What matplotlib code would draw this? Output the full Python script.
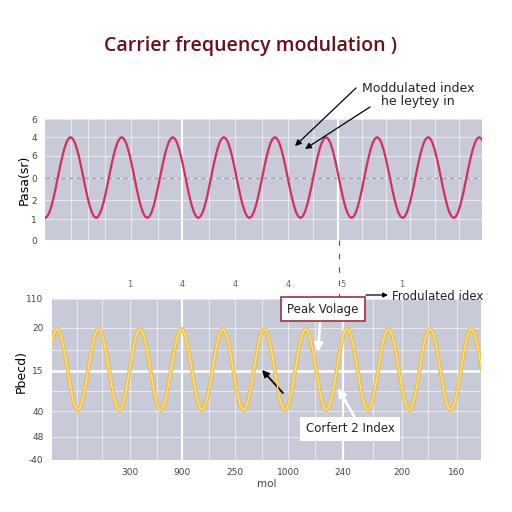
"""Carrier frequency modulation chart, two stacked panels."""

import matplotlib

matplotlib.use("Agg")

import matplotlib.pyplot as plt
import numpy as np
from matplotlib.lines import Line2D

# samples per carrier period in the wave lists below
STEPS = 24

top_wave = [
    1.1, 1.17, 1.37, 1.69, 2.1, 2.58, 3.1, 3.62, 4.1, 4.51, 4.83, 5.03,
    5.1, 5.03, 4.83, 4.51, 4.1, 3.62, 3.1, 2.58, 2.1, 1.69, 1.37, 1.17,
    1.1, 1.17, 1.37, 1.69, 2.1, 2.58, 3.1, 3.62, 4.1, 4.51, 4.83, 5.03,
    5.1, 5.03, 4.83, 4.51, 4.1, 3.62, 3.1, 2.58, 2.1, 1.69, 1.37, 1.17,
    1.1, 1.17, 1.37, 1.69, 2.1, 2.58, 3.1, 3.62, 4.1, 4.51, 4.83, 5.03,
    5.1, 5.03, 4.83, 4.51, 4.1, 3.62, 3.1, 2.58, 2.1, 1.69, 1.37, 1.17,
    1.1, 1.17, 1.37, 1.69, 2.1, 2.58, 3.1, 3.62, 4.1, 4.51, 4.83, 5.03,
    5.1, 5.03, 4.83, 4.51, 4.1, 3.62, 3.1, 2.58, 2.1, 1.69, 1.37, 1.17,
    1.1, 1.17, 1.37, 1.69, 2.1, 2.58, 3.1, 3.62, 4.1, 4.51, 4.83, 5.03,
    5.1, 5.03, 4.83, 4.51, 4.1, 3.62, 3.1, 2.58, 2.1, 1.69, 1.37, 1.17,
    1.1, 1.17, 1.37, 1.69, 2.1, 2.58, 3.1, 3.62, 4.1, 4.51, 4.83, 5.03,
    5.1, 5.03, 4.83, 4.51, 4.1, 3.62, 3.1, 2.58, 2.1, 1.69, 1.37, 1.17,
    1.1, 1.17, 1.37, 1.69, 2.1, 2.58, 3.1, 3.62, 4.1, 4.51, 4.83, 5.03,
    5.1, 5.03, 4.83, 4.51, 4.1, 3.62, 3.1, 2.58, 2.1, 1.69, 1.37, 1.17,
    1.1, 1.17, 1.37, 1.69, 2.1, 2.58, 3.1, 3.62, 4.1, 4.51, 4.83, 5.03,
    5.1, 5.03, 4.83, 4.51, 4.1, 3.62, 3.1, 2.58, 2.1, 1.69, 1.37, 1.17,
    1.1, 1.17, 1.37, 1.69, 2.1, 2.58, 3.1, 3.62, 4.1, 4.51, 4.83, 5.03,
    5.1, 5.03, 4.83,
]
top_ytick_pos = [0, 1.04, 1.98, 3.07, 4.17, 5.11, 6]
top_ytick_labels = ["0", "1", "2", "0", "6", "4", "6"]
top_grid_x = [0.51, 0.84, 1.17, 1.68, 2.21, 3.21, 3.72, 4.25, 4.76,
              5.24, 6.20, 6.67, 7.14, 7.63, 8.10]
top_marker_x = [2.68, 5.73]

bottom_wave = [
    7.40, 7.80, 8.05, 8.14, 8.05, 7.80, 7.40, 6.88, 6.27, 5.62, 4.97, 4.36,
    3.84, 3.44, 3.19,
    3.10, 3.19, 3.44, 3.84, 4.36, 4.97, 5.62, 6.27, 6.88, 7.40, 7.80, 8.05,
    8.14, 8.05, 7.80, 7.40, 6.88, 6.27, 5.62, 4.97, 4.36, 3.84, 3.44, 3.19,
    3.10, 3.19, 3.44, 3.84, 4.36, 4.97, 5.62, 6.27, 6.88, 7.40, 7.80, 8.05,
    8.14, 8.05, 7.80, 7.40, 6.88, 6.27, 5.62, 4.97, 4.36, 3.84, 3.44, 3.19,
    3.10, 3.19, 3.44, 3.84, 4.36, 4.97, 5.62, 6.27, 6.88, 7.40, 7.80, 8.05,
    8.14, 8.05, 7.80, 7.40, 6.88, 6.27, 5.62, 4.97, 4.36, 3.84, 3.44, 3.19,
    3.10, 3.19, 3.44, 3.84, 4.36, 4.97, 5.62, 6.27, 6.88, 7.40, 7.80, 8.05,
    8.14, 8.05, 7.80, 7.40, 6.88, 6.27, 5.62, 4.97, 4.36, 3.84, 3.44, 3.19,
    3.10, 3.19, 3.44, 3.84, 4.36, 4.97, 5.62, 6.27, 6.88, 7.40, 7.80, 8.05,
    8.14, 8.05, 7.80, 7.40, 6.88, 6.27, 5.62, 4.97, 4.36, 3.84, 3.44, 3.19,
    3.10, 3.19, 3.44, 3.84, 4.36, 4.97, 5.62, 6.27, 6.88, 7.40, 7.80, 8.05,
    8.14, 8.05, 7.80, 7.40, 6.88, 6.27, 5.62, 4.97, 4.36, 3.84, 3.44, 3.19,
    3.10, 3.19, 3.44, 3.84, 4.36, 4.97, 5.62, 6.27, 6.88, 7.40, 7.80, 8.05,
    8.14, 8.05, 7.80, 7.40, 6.88, 6.27, 5.62, 4.97, 4.36, 3.84, 3.44, 3.19,
    3.10, 3.19, 3.44, 3.84, 4.36, 4.97, 5.62, 6.27, 6.88, 7.40, 7.80, 8.05,
    8.14, 8.05, 7.80, 7.40, 6.88, 6.27, 5.62, 4.97, 4.36, 3.84, 3.44, 3.19,
    3.10, 3.19, 3.44, 3.84, 4.36, 4.97, 5.62, 6.27, 6.88, 7.40, 7.80, 8.05,
    8.14, 8.05, 7.80, 7.40, 6.88, 6.27, 5.62, 4.97, 4.36, 3.84, 3.44, 3.19,
    3.10, 3.19, 3.44, 3.84, 4.36, 4.97, 5.62, 6.27, 6.88, 7.40, 7.80, 8.05,
    8.14, 8.05, 7.80, 7.40, 6.88, 6.27, 5.62,
]
bottom_xtick_pos = [1.88, 3.14, 4.42, 5.70, 7.03, 8.45, 9.78]
bottom_xtick_labels = ["300", "900", "250", "1000", "240", "200", "160"]
bottom_top_labels = ["1", "4", "4", "4", "5", "1"]
bottom_minor_x = [0.60, 1.21, 2.54, 3.79, 5.07, 6.35, 7.75, 9.08]
bottom_ytick_pos = [0, 1.43, 3.04, 5.53, 8.2, 10]
bottom_ytick_labels = ["-40", "48", "40", "15", "20", "110"]
bottom_minor_y = [4.29, 6.83]
bottom_marker_x = [3.14, 7.03]
bottom_marker_y = 5.53

BG = "#c8cad8"
TICK_COLOR = "#444444"


def fp(x: float, y: float) -> tuple[float, float]:
    """Pixel position (from top-left) -> figure fraction."""
    return x / 512, 1 - y / 512


def style_axes(ax: plt.Axes) -> None:
    ax.set_facecolor(BG)
    for side in ax.spines.values():
        side.set_visible(False)
    ax.tick_params(which="both", length=0, labelsize=6.5, colors=TICK_COLOR, pad=6)
    ax.grid(which="both", color="white", alpha=0.55, linewidth=0.8)
    ax.set_axisbelow(True)


def arrow(ax: plt.Axes, start, end, color="black", lw=0.9, scale=9) -> None:
    ax.annotate(
        "", xy=fp(*end), xycoords="figure fraction",
        xytext=fp(*start), textcoords="figure fraction",
        arrowprops=dict(arrowstyle="-|>", color=color, lw=lw, mutation_scale=scale,
                        shrinkA=0, shrinkB=0),
    )


fig = plt.figure(figsize=(5.12, 5.12), dpi=100)
fig.patch.set_facecolor("white")

# --- top panel ---
ax_top = fig.add_axes([0.088, 0.531, 0.853, 0.2365])
style_axes(ax_top)
top_x = np.arange(len(top_wave)) / STEPS
ax_top.plot(top_x, top_wave, color="#d42f5a", linewidth=1.6, zorder=3,
            solid_joinstyle="round")
ax_top.axhline(3.07, color="#9a9cad", linestyle=(0, (4, 3)), linewidth=0.8, zorder=2)
for xv in top_marker_x:
    ax_top.axvline(xv, color="white", linewidth=1.6, zorder=2)
ax_top.set_xlim(0, 8.55)
ax_top.set_ylim(0, 6)
ax_top.set_xticks(top_grid_x)
ax_top.set_xticklabels([])
ax_top.set_yticks(top_ytick_pos, top_ytick_labels)
ax_top.set_ylabel("Pasa(sr)", fontsize=9)
ax_top.yaxis.set_label_coords(-0.032, 0.5)

# --- bottom panel ---
ax_bot = fig.add_axes([0.1016, 0.1016, 0.838, 0.3145])
style_axes(ax_bot)
bot_x = np.arange(len(bottom_wave)) / STEPS
ax_bot.plot(bot_x, bottom_wave, color="#efc03c", linewidth=3.0, alpha=0.9, zorder=3,
            solid_joinstyle="round")
ax_bot.plot(bot_x, bottom_wave, color="#f9e4a0", linewidth=0.8, zorder=4)
for xv in bottom_marker_x:
    ax_bot.axvline(xv, color="white", linewidth=1.6, zorder=2)
ax_bot.axhline(bottom_marker_y, color="white", linewidth=1.8, zorder=2)
ax_bot.set_xlim(0, 10.36)
ax_bot.set_ylim(0, 10)
ax_bot.set_xticks(bottom_xtick_pos, bottom_xtick_labels)
ax_bot.set_xticks(bottom_minor_x, minor=True)
ax_bot.set_yticks(bottom_ytick_pos, bottom_ytick_labels)
ax_bot.set_yticks(bottom_minor_y, minor=True)
ax_bot.set_xlabel("mol", fontsize=7.5, color=TICK_COLOR, labelpad=1)
ax_bot.set_ylabel("Pbecd)", fontsize=9)
ax_bot.yaxis.set_label_coords(-0.056, 0.55)

sec = ax_bot.secondary_xaxis("top")
sec.set_xticks(bottom_xtick_pos[:-1], bottom_top_labels)
sec.tick_params(length=0, labelsize=6, colors="#666666", pad=7)
for side in sec.spines.values():
    side.set_visible(False)

# dashed marker joining the panels
fig.add_artist(Line2D([339 / 512, 339 / 512], [1 - 240 / 512, 1 - 299 / 512],
                      color="#555555", linewidth=0.8, linestyle=(0, (5, 7))))

# --- title and annotations ---
fig.text(*fp(251, 46), "Carrier frequency modulation )", ha="center", va="center",
         fontsize=14, fontweight="semibold", color="#6b0f1d", family="Open Sans")

fig.text(*fp(418, 95), "Moddulated index\nhe leytey in", ha="center", va="center",
         fontsize=9, linespacing=1.05, color="#222222")
arrow(ax_top, (356, 88), (295, 146))
arrow(ax_top, (370, 107), (305, 149))

fig.text(*fp(323, 309), "Peak Volage", ha="center", va="center", fontsize=8.5,
         color="#222222", zorder=6,
         bbox=dict(boxstyle="square,pad=0.5", fc="white", ec="#a0303f", lw=1.2))
arrow(ax_bot, (320, 323), (318, 352), color="white", lw=2.0, scale=12)

arrow(ax_bot, (366, 295), (388, 295), lw=0.9, scale=7)
fig.text(*fp(392, 296), "Frodulated idex", ha="left", va="center", fontsize=8.5,
         color="#222222")

fig.text(*fp(350, 429), "Corfert 2 Index", ha="center", va="center", fontsize=8.5,
         color="#222222", zorder=6,
         bbox=dict(boxstyle="square,pad=0.45", fc="white", ec="none"))
arrow(ax_bot, (354, 416), (338, 388), color="white", lw=2.0, scale=12)

arrow(ax_bot, (283, 393), (262, 370), lw=1.3, scale=10)

fig.savefig("out.png", dpi=100)
